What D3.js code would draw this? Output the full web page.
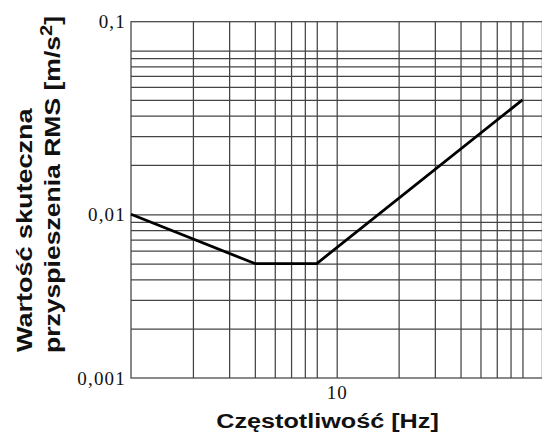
<!DOCTYPE html>
<html>
<head>
<meta charset="utf-8">
<script src="https://cdn.jsdelivr.net/npm/d3@7/dist/d3.min.js"></script>
<style>
  html, body { margin: 0; padding: 0; background: #fff; }
  svg { display: block; }
</style>
</head>
<body>
<svg id="chart" width="542" height="439"></svg>
<script>
// ---- data ----
const freqHz   = [1, 4, 8, 80];
const accelRms = [0.01, 0.005, 0.005, 0.05];

const xDomain = [1, 100];
const yDomain = [0.001, 0.15];

const xGridValues = [2, 3, 4, 5, 6, 7, 8, 10, 20, 30, 40, 50, 60, 70, 80];
const yGridValues = [0.002, 0.003, 0.004, 0.005, 0.006, 0.007, 0.008, 0.009, 0.01,
                     0.02, 0.03, 0.04, 0.05, 0.06, 0.07, 0.08, 0.09, 0.1];

const xTickValues = [10];
const xTickLabels = ["10"];
const yTickValues = [0.001, 0.01, 0.15];
const yTickLabels = ["0,001", "0,01", "0,1"];

const xTitle = "Częstotliwość [Hz]";
const yTitle1 = "Wartość skuteczna";
const yTitle2 = "przyspieszenia RMS [m/s";
const yTitleSup = "2";
const yTitle2End = "]";

// ---- layout ----
const svg = d3.select("#chart");
const plot = { left: 131, top: 21.7, right: 542.4, bottom: 378 };

const x = d3.scaleLog().domain(xDomain).range([plot.left, plot.right]);
const y = d3.scaleLog().domain(yDomain).range([plot.bottom, plot.top]);

const gridColor = "#444";

// vertical grid
svg.append("g")
  .attr("transform", `translate(0,${plot.bottom})`)
  .call(d3.axisBottom(x).tickValues(xGridValues).tickSize(-(plot.bottom - plot.top)).tickFormat(""))
  .call(g => g.select(".domain").remove())
  .call(g => g.selectAll("line").attr("stroke", gridColor).attr("stroke-width", 1.25));

// horizontal grid
svg.append("g")
  .attr("transform", `translate(${plot.left},0)`)
  .call(d3.axisLeft(y).tickValues(yGridValues).tickSize(-(plot.right - plot.left)).tickFormat(""))
  .call(g => g.select(".domain").remove())
  .call(g => g.selectAll("line").attr("stroke", gridColor).attr("stroke-width", 1.25));

// frame
svg.append("rect")
  .attr("x", x(xDomain[0])).attr("y", y(yDomain[1]))
  .attr("width", x(xDomain[1]) - x(xDomain[0]))
  .attr("height", y(yDomain[0]) - y(yDomain[1]))
  .attr("fill", "none").attr("stroke", gridColor).attr("stroke-width", 1.25);

// tick labels
const tickFont = "'Liberation Serif', 'Times New Roman', serif";
const xAxis = svg.append("g")
  .attr("transform", `translate(0,${plot.bottom})`)
  .call(d3.axisBottom(x).tickValues(xTickValues).tickSize(0).tickPadding(0)
        .tickFormat((d, i) => xTickLabels[i]));
xAxis.select(".domain").remove();
xAxis.selectAll("text")
  .attr("font-family", tickFont).attr("font-size", 19).attr("fill", "#111")
  .attr("letter-spacing", 1)
  .attr("dy", null).attr("y", 21);

const yAxis = svg.append("g")
  .attr("transform", `translate(${plot.left},0)`)
  .call(d3.axisLeft(y).tickValues(yTickValues).tickSize(0).tickPadding(5)
        .tickFormat((d, i) => yTickLabels[i]));
yAxis.select(".domain").remove();
yAxis.selectAll("text")
  .attr("font-family", tickFont).attr("font-size", 19).attr("fill", "#111")
  .attr("letter-spacing", 1.2);

// curve
const pts = freqHz.map((f, i) => [f, accelRms[i]]);
svg.append("path")
  .datum(pts)
  .attr("fill", "none")
  .attr("stroke", "#000")
  .attr("stroke-width", 2.8)
  .attr("stroke-linejoin", "round")
  .attr("d", d3.line().x(d => x(d[0])).y(d => y(d[1])));

// axis titles
const titleFont = "'Liberation Sans', Arial, sans-serif";
svg.append("text")
  .attr("transform", "translate(327.5,428) scale(1.2,1)")
  .attr("text-anchor", "middle")
  .attr("font-family", titleFont).attr("font-weight", "bold").attr("font-size", 21)
  .attr("fill", "#111")
  .text(xTitle);

svg.append("text")
  .attr("transform", "translate(32,352) rotate(-90) scale(1.2,1)")
  .attr("font-family", titleFont).attr("font-weight", "bold").attr("font-size", 22.5)
  .attr("fill", "#111")
  .text(yTitle1);

const t2 = svg.append("text")
  .attr("transform", "translate(60,353) rotate(-90) scale(1.18,1)")
  .attr("font-family", titleFont).attr("font-weight", "bold").attr("font-size", 22.5)
  .attr("fill", "#111");
t2.append("tspan").text(yTitle2);
t2.append("tspan").attr("dy", -8).attr("font-size", 17).text(yTitleSup);
t2.append("tspan").attr("dy", 8).text(yTitle2End);
</script>
</body>
</html>
